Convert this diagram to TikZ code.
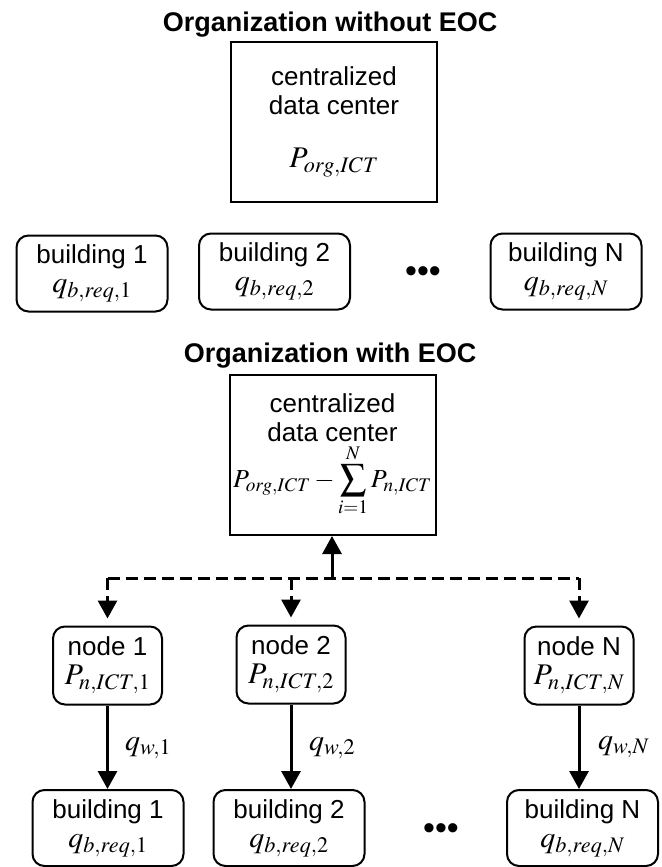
\documentclass[tikz,border=0pt]{standalone}
\usepackage{mathptmx}
\usepackage{fontspec}
\setmainfont{Liberation Sans}
\usetikzlibrary{arrows.meta}
\newcommand\mth[1]{{\fontsize{30}{32}\selectfont$#1$}}
\newcommand\mths[1]{{\fontsize{26}{28}\selectfont$#1$}}
\begin{document}
\begin{tikzpicture}[x=1pt,y=-1pt,
  every node/.style={font=\fontsize{26}{29}\selectfont},
  dc/.style={draw,line width=2pt,minimum width=206pt,minimum height=160pt,align=center,inner sep=0pt},
  rbox/.style={draw,line width=2pt,rounded corners=12pt,align=center,inner sep=0pt},
  bld/.style={rbox,minimum width=151pt,minimum height=76pt},
  nd/.style={rbox,minimum width=109pt,minimum height=78pt},
  ttl/.style={font=\fontsize{27}{30}\selectfont\bfseries,anchor=base},
  conn/.style={line width=3pt,-{Triangle[width=19pt,length=18pt]}},
  dconn/.style={conn,dash pattern=on 12pt off 6pt},
  dline/.style={line width=3pt,dash pattern=on 12pt off 6pt},
  lbl/.style={anchor=west,inner sep=0pt,font=\fontsize{30}{32}\selectfont},
  dots/.style={font=\fontsize{34}{34}\selectfont,inner sep=0pt}
]
\useasboundingbox (0,0) rectangle (661,867);

% ---------- without EOC ----------
\node[ttl] (t1) at (330,32) {Organization without EOC};
\node[dc] (dc1) at (334,122) {centralized\\data center\\[24pt]\mth{P_{org,ICT}}};

\node[bld] (b1) at (92,273.5) {building 1\\\mth{q_{b,req,1}}};
\node[bld] (b2) at (274.5,271.5) {building 2\\\mth{q_{b,req,2}}};
\node[bld] (bN) at (566,271.5) {building N\\\mth{q_{b,req,N}}};
\node[dots] (d1) at (423,275) {•••};

% ---------- with EOC ----------
\node[ttl] (t2) at (330,362) {Organization with EOC};
\node[dc] (dc2) at (332.5,455) {centralized\\data center\\[2pt]\mths{P_{org,ICT}-\displaystyle\sum_{i=1}^{N}P_{n,ICT}}};

\node[nd] (n1) at (107.5,665.5) {node 1\\\mth{P_{n,ICT,1}}};
\node[nd] (n2) at (291,664.5) {node 2\\\mth{P_{n,ICT,2}}};
\node[nd] (nN) at (579,665.5) {node N\\\mth{P_{n,ICT,N}}};

\node[bld] (B1) at (108,828) {building 1\\\mth{q_{b,req,1}}};
\node[bld] (B2) at (289,828) {building 2\\\mth{q_{b,req,2}}};
\node[bld] (BN) at (582.5,828) {building N\\\mth{q_{b,req,N}}};
\node[dots] (d2) at (441,832) {•••};

% dashed distribution tree
\coordinate (jl) at (107.5,578);
\coordinate (jr) at (579,578);
\coordinate (j) at (332,578);
\coordinate (j2) at (291,578);
\draw[dline] (jl) -- (jr);
\draw[conn] (j) -- (dc2.south -| j);
\draw[dconn,shorten >=7pt] (jl) -- (n1.north);
\draw[dconn,shorten >=7pt] (j2) -- (n2.north);
\draw[dconn,shorten >=7pt] (jr) -- (nN.north);

% node -> building
\draw[conn] (n1.south) -- (n1.south |- B1.north);
\draw[conn] (n2.south) -- (n2.south |- B2.north);
\draw[conn] (nN.south) -- (nN.south |- BN.north);

\node[lbl] (w1) at (125,748) {$q_{w,1}$};
\node[lbl] (w2) at (309,748) {$q_{w,2}$};
\node[lbl] (wN) at (598,747) {$q_{w,N}$};
\end{tikzpicture}
\end{document}
